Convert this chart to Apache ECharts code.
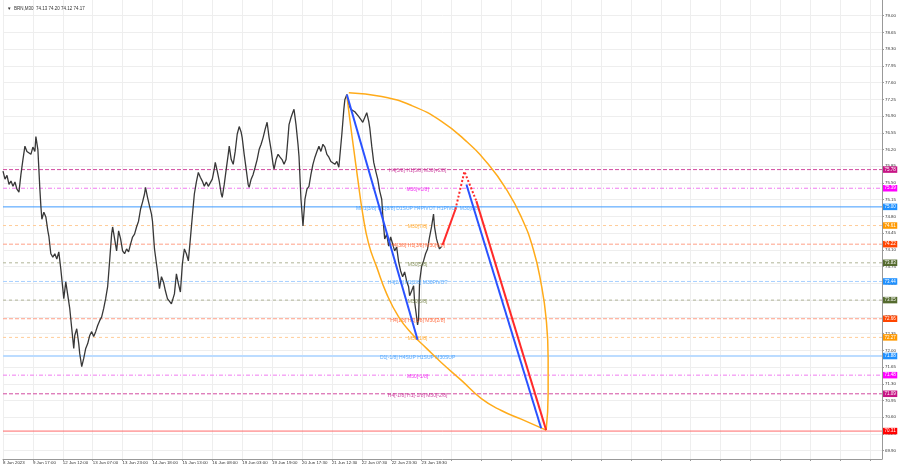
<!DOCTYPE html>
<html><head><meta charset="utf-8">
<script src="https://cdn.jsdelivr.net/npm/echarts@6/dist/echarts.min.js"></script>
<style>html,body{margin:0;padding:0;background:#fff}#c{width:900px;height:468px}</style>
</head><body><div id="c"></div>
<script>
// ---- data (x = bar index, one bar per pixel column) ----
const timeLabels = ['8 Jun 2023','9 Jun 17:00','12 Jun 12:00','13 Jun 07:00','13 Jun 23:00','14 Jun 18:00','15 Jun 13:00','16 Jun 08:00','19 Jun 03:00','19 Jun 19:00','20 Jun 17:30','21 Jun 12:30','22 Jun 07:30','22 Jun 23:30','23 Jun 18:30'];
const priceTicks = [79.00,78.65,78.30,77.95,77.60,77.25,76.90,76.55,76.20,75.85,75.50,75.15,74.80,74.45,74.10,73.75,73.40,73.05,72.70,72.35,72.00,71.65,71.30,70.95,70.60,70.25,69.90];
const pricePath = [[0,75.75],[2,75.58],[4,75.66],[6,75.47],[8,75.54],[10,75.43],[12,75.52],[14,75.37],[16,75.31],[18,75.68],[20,75.99],[22,76.27],[24,76.16],[26,76.20],[28,76.10],[30,76.25],[32,76.16],[33,76.47],[35,76.20],[36,75.79],[37,75.37],[38,75.02],[39,74.74],[41,74.89],[43,74.79],[45,74.50],[46,74.39],[48,74.02],[50,73.95],[52,74.02],[54,73.91],[56,74.06],[58,73.70],[60,73.29],[61,73.08],[63,73.43],[65,73.45],[67,72.87],[69,72.45],[71,72.04],[72,72.31],[74,72.45],[76,72.14],[77,71.93],[79,71.66],[81,71.83],[83,72.04],[85,72.14],[87,72.31],[89,72.39],[91,72.29],[93,72.39],[95,72.52],[97,72.62],[99,72.70],[101,72.87],[103,73.08],[105,73.33],[107,73.87],[109,74.43],[110,74.58],[112,74.33],[114,74.08],[116,74.50],[118,74.33],[120,74.08],[122,74.02],[124,74.12],[126,74.06],[128,74.22],[130,74.37],[132,74.43],[134,74.58],[136,74.70],[138,74.95],[140,75.10],[142,75.27],[143,75.41],[145,75.20],[147,75.02],[149,74.85],[150,74.70],[152,74.12],[154,73.81],[155,73.66],[157,73.29],[159,73.54],[161,73.43],[163,73.24],[165,73.08],[167,73.04],[169,72.97],[171,72.95],[172,73.18],[174,73.60],[176,73.39],[178,73.22],[180,73.81],[182,74.12],[184,74.02],[186,73.87],[188,74.33],[190,74.81],[192,75.27],[194,75.52],[196,75.72],[198,75.62],[200,75.54],[202,75.43],[204,75.52],[206,75.43],[208,75.47],[210,75.58],[212,75.79],[213,75.93],[215,75.75],[217,75.54],[219,75.27],[220,75.20],[222,75.47],[224,75.79],[226,76.10],[227,76.27],[229,75.99],[231,75.89],[233,76.16],[235,76.52],[237,76.68],[239,76.56],[240,76.45],[242,76.10],[244,75.79],[246,75.47],[247,75.41],[249,75.58],[251,75.68],[253,75.83],[255,75.99],[257,76.20],[259,76.31],[261,76.45],[263,76.62],[265,76.77],[267,76.45],[269,76.20],[271,75.89],[272,75.79],[274,75.99],[276,76.10],[278,76.04],[280,75.99],[282,75.89],[284,75.99],[285,76.20],[287,76.72],[289,76.87],[291,76.99],[292,77.04],[294,76.72],[296,76.31],[297,76.06],[299,75.16],[301,74.60],[303,75.16],[305,75.37],[307,75.43],[309,75.68],[311,75.89],[313,76.04],[315,76.16],[317,76.27],[319,76.16],[321,76.31],[323,76.25],[325,76.10],[327,76.04],[329,75.95],[331,75.99],[333,75.89],[335,75.95],[337,75.83],[338,75.79],[340,76.52],[342,77.04],[343,77.24],[345,77.35],[347,77.14],[349,77.04],[351,77.08],[353,76.99],[355,76.97],[357,76.89],[359,76.83],[361,76.77],[363,76.87],[365,76.97],[367,76.79],[368,76.66],[370,76.27],[372,75.93],[374,75.75],[376,75.58],[378,75.33],[380,75.16],[381,74.85],[382,74.58],[383,74.33],[385,74.43],[387,74.18],[389,74.37],[391,74.22],[393,74.08],[395,74.16],[397,73.85],[399,73.66],[401,73.54],[403,73.64],[405,73.45],[407,73.33],[408,73.14],[410,73.24],[412,73.35],[413,73.02],[415,72.70],[416,72.53],[417,72.66],[418,73.43],[420,73.75],[422,73.87],[424,74.02],[426,74.12],[428,74.37],[430,74.58],[432,74.85],[433,74.58],[435,74.33],[437,74.18],[438,74.12],[440,74.17]];
const levelValues = [75.78,75.39,75.00,74.61,74.22,73.83,73.44,73.05,72.66,72.27,71.88,71.48,71.09,70.31];
const levelNames = ['H4[5/8] H1[5/8] M30[+2/8]','M30[+1/8]','MN1[3/8] W1[8/8] D1SUP H4PIVOT H1PIVOT M30[8/8]','M30[7/8]','H4[3/8] H1[3/8] M30[6/8]','M30[5/8]','H4[2/8] H1[2/8] M30PIVOT','M30[3/8]','H4[1/8] H1[1/8] M30[2/8]','M30[1/8]','D1[-1/8] H4SUP H1SUP M30SUP','M30[-1/8]','H4[-1/8] H1[-1/8] M30[-2/8]',''];
const levelKinds = ['h4','m30x','pivot','m30o','h4r','m30g','h4b','m30g','h4r','m30o','sup','m30x','h4','target'];
const arcLeft = [[345,77.35],[348,76.83],[352,76.20],[356,75.58],[361,74.85],[367,74.22],[375,73.74],[385,73.18],[397,72.70],[410,72.35],[425,72.04],[440,71.74],[460,71.37],[480,70.99],[500,70.74],[520,70.56],[545,70.33]];
const arcRight = [[347,77.39],[380,77.31],[410,77.12],[440,76.79],[465,76.37],[487,75.89],[505,75.37],[520,74.79],[532,74.12],[540,73.39],[545,72.66],[547,71.83],[547,71.10],[545,70.33]];
const blueLine1 = [[345,77.35],[416,72.22]];
const blueLine2 = [[465,75.47],[540,70.37]];
const redUp = [[441,74.20],[454,74.95]];
const redDotted = [[454,74.95],[463,75.74],[475,75.12]];
const redDown = [[475,75.12],[545,70.33]];

// ---- styles ----
const X_MIN = 0, X_MAX = 882;
const LEVEL_STYLE = {
  h4:{line:'#d24aa0',type:[4,2],width:1,text:'#c2188a',box:'#c71585'},
  m30x:{line:'#f07cf0',type:[4,2,1,2],width:1,text:'#ee00ee',box:'#ff00ff'},
  pivot:{line:'#3d9bff',type:'solid',width:1,text:'#3399ff',box:'#1e90ff'},
  m30o:{line:'#ffcc99',type:[3,3],width:1,text:'#ff9900',box:'#ff9900'},
  h4r:{line:'#ffa088',type:[4,2],width:1,text:'#ff5522',box:'#ff4500'},
  m30g:{line:'#b0b498',type:[3,3],width:1,text:'#6b7a3a',box:'#556b2f'},
  h4b:{line:'#a8d0ff',type:[4,2],width:1,text:'#3399ff',box:'#1e90ff'},
  sup:{line:'#bcdcff',type:'solid',width:2,text:'#3399ff',box:'#1e90ff'},
  target:{line:'#ff6a6a',type:'solid',width:1,text:'#ff0000',box:'#ff0000'}
};
const FONT = 'Liberation Sans, Arial, sans-serif';
const LABEL_X = 416;

const chart = echarts.init(document.getElementById('c'));
const levelSeries = levelValues.map((v,i)=>{
  const s = LEVEL_STYLE[levelKinds[i]];
  return {type:'line',data:[[X_MIN,v],[X_MAX,v]],symbol:'none',showSymbol:false,silent:true,z:1,
    animation:false,clip:false,color:s.line,
    lineStyle:{color:s.line,type:s.type,width:s.width,opacity:1},
    endLabel:{show:true,distance:1,formatter:()=>v.toFixed(2),color:'#fff',backgroundColor:s.box,
      fontSize:4.5,fontFamily:FONT,padding:[1,1.5,0.5,1.5]}};
});
const levelText = levelValues.map((v,i)=>({value:[LABEL_X,v],name:levelNames[i],
  label:{color:LEVEL_STYLE[levelKinds[i]].text}}));

function seg(data,color,width,type,z){
  return {type:'line',data,showSymbol:false,symbol:'none',silent:true,z:z||6,color,
    lineStyle:{color,width,type:type||'solid'},animation:false};
}

chart.setOption({
  animation:false,
  backgroundColor:'#ffffff',
  title:{text:'▼  BRN,M30  74.13 74.20 74.12 74.17',left:2,top:1,
    textStyle:{fontSize:4.5,fontWeight:'normal',color:'#333',fontFamily:FONT}},
  grid:{left:0,right:18,top:0,bottom:9,containLabel:false},
  xAxis:{type:'value',min:X_MIN,max:X_MAX,interval:30,
    axisLine:{show:true,onZero:false,lineStyle:{color:'#999',width:1}},
    axisTick:{show:true,length:2,lineStyle:{color:'#999'}},
    axisLabel:{show:true,fontSize:4.4,color:'#333',fontFamily:FONT,align:'left',margin:2,showMaxLabel:false,
      formatter:v=>{const i=Math.round(v/30);return (Math.abs(v-i*30)<0.01 && i<timeLabels.length)?timeLabels[i]:'';}},
    splitLine:{show:true,lineStyle:{color:'#eeeeee',width:1}}},
  yAxis:{type:'value',position:'right',min:69.726,max:79.328,scale:true,
    axisLine:{show:true,onZero:false,lineStyle:{color:'#999',width:1}},
    axisTick:{show:true,length:2,customValues:priceTicks,lineStyle:{color:'#999'}},
    axisLabel:{show:true,customValues:priceTicks,fontSize:4.4,color:'#333',fontFamily:FONT,margin:3,
      formatter:v=>v.toFixed(2)},
    splitLine:{show:true,lineStyle:{color:'#eeeeee',width:1}}},
  series:[
    ...levelSeries,
    {type:'line',data:pricePath,showSymbol:false,symbol:'none',silent:true,z:3,color:'#383838',
      lineStyle:{color:'#383838',width:1.3},animation:false},
    {type:'scatter',data:levelText,symbolSize:1,itemStyle:{color:'rgba(255,255,255,0)'},z:4,silent:true,
      label:{show:true,position:'inside',offset:[0,1.5],fontSize:5,fontFamily:FONT,formatter:p=>p.name}},
    Object.assign(seg(arcLeft,'#ffab1a',1.5),{smooth:0.5}),
    Object.assign(seg(arcRight,'#ffab1a',1.5),{smooth:0.5}),
    seg(blueLine1,'#2a52ff',2),
    seg(blueLine2,'#2a52ff',2),
    seg(redUp,'#ff2a2a',2),
    seg(redDotted,'#ff2a2a',2,[2,2]),
    seg(redDown,'#ff2a2a',2)
  ]
});
</script></body></html>
